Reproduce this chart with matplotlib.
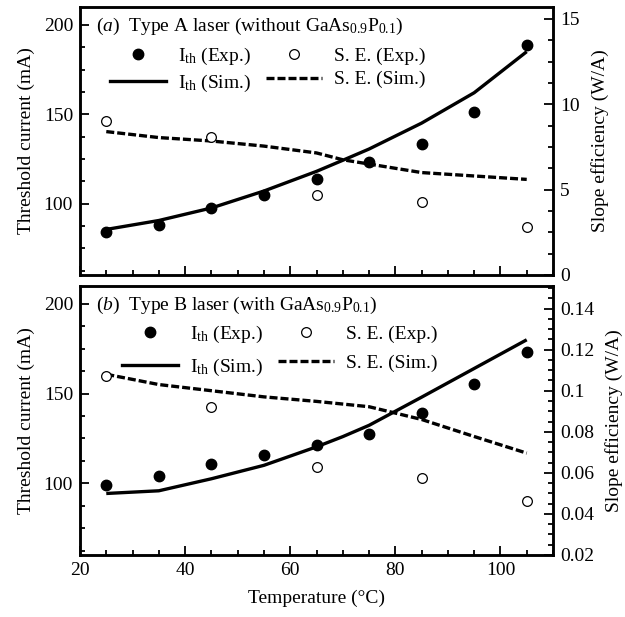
import numpy as np
import matplotlib
matplotlib.use('Agg')
from matplotlib import pyplot as plt
from matplotlib.ticker import MultipleLocator, FuncFormatter
from matplotlib.lines import Line2D

plt.rcParams['font.family'] = ['Liberation Serif', 'DejaVu Serif']
plt.rcParams['mathtext.fontset'] = 'custom'
plt.rcParams['mathtext.rm'] = 'Liberation Serif'
plt.rcParams['mathtext.it'] = 'Liberation Serif:italic'
plt.rcParams['font.size'] = 14

"Measured points, every 10 C (I_th) and every 20 C (slope efficiency)"
T_exp = [25, 35, 45, 55, 65, 75, 85, 95, 105]
T_se = [25, 45, 65, 85, 105]
T_sim = [25, 35, 45, 55, 65, 70, 75, 85, 95, 105]

Ith_exp_A = [84, 88, 97.5, 104.5, 113.5, 123, 133.5, 151.5, 188.5]
SE_exp_A = [9.0, 8.1, 4.7, 4.3, 2.8]
Ith_sim_A = [85.5, 90.5, 97.5, 107, 118, 124.2, 130.5, 145, 162, 185]
SE_sim_A = [8.4, 8.05, 7.85, 7.55, 7.15, 6.75, 6.5, 6.0, 5.8, 5.6]

Ith_exp_B = [99, 104, 110.5, 116, 121.5, 127.5, 139, 155.5, 173]
SE_exp_B = [0.107, 0.092, 0.063, 0.0575, 0.0465]
Ith_sim_B = [94.3, 95.8, 102.5, 110, 120.3, 126, 132.3, 148, 164, 180]
SE_sim_B = [0.108, 0.103, 0.1, 0.097, 0.0948, 0.0935, 0.0922, 0.086, 0.0777, 0.0696]

titles = [r'($\it{a}$)  Type A laser (without GaAs$_{0.9}$P$_{0.1}$)',
          r'($\it{b}$)  Type B laser (with GaAs$_{0.9}$P$_{0.1}$)']

fig = plt.figure(figsize=(6.25, 6.17), dpi=100)
ax1 = fig.add_axes([0.128, 0.5543, 0.7568, 0.4344])
ax2 = fig.add_axes([0.128, 0.1005, 0.7568, 0.436])

panels = [(ax1, Ith_exp_A, SE_exp_A, Ith_sim_A, SE_sim_A, (0, 15.7)),
          (ax2, Ith_exp_B, SE_exp_B, Ith_sim_B, SE_sim_B, (0.02, 0.151))]
leg_pos = [(0.063, 0.855), (0.089, 0.86)]
leg_space = [0.3, 0.6]

for i, (ax, ie, se, isim, ssim, rlim) in enumerate(panels):
    axr = ax.twinx()
    ax.plot(T_sim, isim, color='k', lw=2.4, solid_capstyle='butt', zorder=2)
    axr.plot(T_sim, ssim, color='k', lw=2.4, dashes=(2.4, 0.9), zorder=2)
    ax.plot(T_exp, ie, 'o', color='k', ms=7.5, zorder=3)
    axr.plot(T_se, se, 'o', mfc='white', mec='k', mew=0.9, ms=7, zorder=3)

    ax.set_xlim(20, 110)
    ax.set_ylim(60, 210)
    axr.set_ylim(*rlim)
    ax.xaxis.set_major_locator(MultipleLocator(20))
    ax.xaxis.set_minor_locator(MultipleLocator(5))
    ax.yaxis.set_major_locator(MultipleLocator(50))
    ax.yaxis.set_minor_locator(MultipleLocator(12.5))
    if i == 0:
        axr.yaxis.set_major_locator(MultipleLocator(5))
        axr.yaxis.set_minor_locator(MultipleLocator(1.25))
    else:
        axr.yaxis.set_major_locator(MultipleLocator(0.02))
        axr.yaxis.set_minor_locator(MultipleLocator(0.005))
        axr.yaxis.set_major_formatter(FuncFormatter(lambda v, p: '%g' % round(v, 3)))

    ax.tick_params(which='both', direction='in', width=1.3, top=False, right=False)
    ax.tick_params(which='major', length=6.5, pad=5)
    ax.tick_params(which='minor', length=3.5)
    axr.tick_params(which='both', direction='in', width=1.3)
    axr.tick_params(which='major', length=6.5, pad=5)
    axr.tick_params(which='minor', length=3.5)
    for a in (ax, axr):
        for s in a.spines.values():
            s.set_linewidth(1.8)

    ax.set_ylabel('Threshold current (mA)', labelpad=6)
    axr.set_ylabel('Slope efficiency (W/A)', labelpad=8)

    ax.text(0.034, 0.929, titles[i], transform=ax.transAxes, va='center', ha='left')

    handles = [Line2D([], [], ls='none', marker='o', color='k', ms=7.5),
               Line2D([], [], color='k', lw=2.4),
               Line2D([], [], ls='none', marker='o', mfc='white', mec='k', mew=0.9, ms=7),
               Line2D([], [], color='k', lw=2.4, dashes=(2.4, 0.9))]
    labels = [r'I$_{\rm th}$ (Exp.)', r'I$_{\rm th}$ (Sim.)',
              'S. E. (Exp.)', 'S. E. (Sim.)']
    ax.legend(handles, labels, ncol=2, loc='upper left', bbox_to_anchor=leg_pos[i],
              frameon=False, borderpad=0, borderaxespad=0, handlelength=2.9,
              handletextpad=0.6, columnspacing=0.75, labelspacing=leg_space[i])

ax1.tick_params(labelbottom=False)
ax2.set_xlabel('Temperature (\u00b0C)', labelpad=8)

plt.savefig('out.png', dpi=100)
